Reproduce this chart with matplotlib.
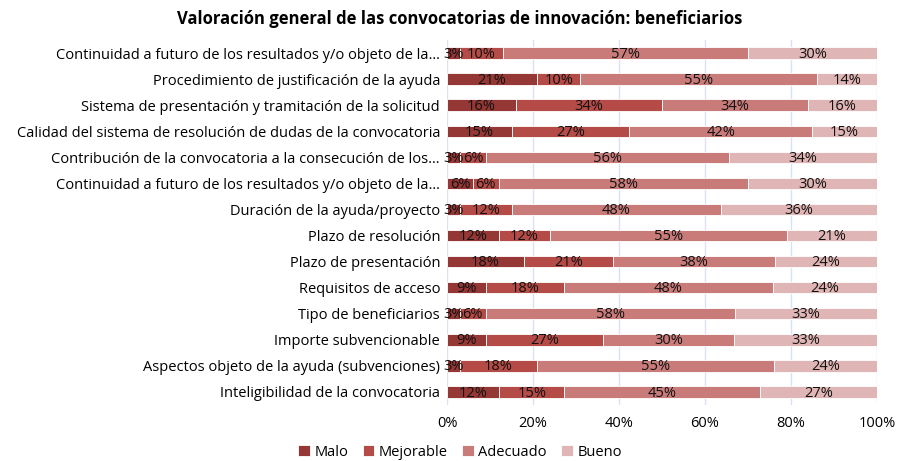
import matplotlib
matplotlib.use("Agg")
import matplotlib.pyplot as plt
import numpy as np

plt.rcParams['font.family'] = ['Open Sans', 'DejaVu Sans']

categories = [
    "Continuidad a futuro de los resultados y/o objeto de la…",
    "Procedimiento de justificación de la ayuda",
    "Sistema de presentación y tramitación de la solicitud",
    "Calidad del sistema de resolución de dudas de la convocatoria",
    "Contribución de la convocatoria a la consecución de los…",
    "Continuidad a futuro de los resultados y/o objeto de la…",
    "Duración de la ayuda/proyecto",
    "Plazo de resolución",
    "Plazo de presentación",
    "Requisitos de acceso",
    "Tipo de beneficiarios",
    "Importe subvencionable",
    "Aspectos objeto de la ayuda (subvenciones)",
    "Inteligibilidad de la convocatoria",
]
series_names = ["Malo", "Mejorable", "Adecuado", "Bueno"]
malo      = [3, 21, 16, 15, 3, 6, 3, 12, 18, 9, 3, 9, 3, 12]
mejorable = [10, 10, 34, 27, 6, 6, 12, 12, 21, 18, 6, 27, 18, 15]
adecuado  = [57, 55, 34, 42, 56, 58, 48, 55, 38, 48, 58, 30, 55, 45]
bueno     = [30, 14, 16, 15, 34, 30, 36, 21, 24, 24, 33, 33, 24, 27]
xtick_labels = ["0%", "20%", "40%", "60%", "80%", "100%"]

colors = ["#953735", "#B44B47", "#C97B7A", "#E0B5B5"]

fig = plt.figure(figsize=(8.97, 4.61), dpi=100)
ax = fig.add_axes([447/897, 1-405/461, 430/897, 365/461])

data = [np.array(d, dtype=float) for d in (malo, mejorable, adecuado, bueno)]
totals = sum(data)
n = len(categories)
y = np.arange(n)
left = np.zeros(n)
for vals, name, col in zip(data, series_names, colors):
    widths = vals / totals * 100
    ax.barh(y, widths, left=left, height=0.44, color=col, label=name,
            edgecolor="white", linewidth=0.6, zorder=3)
    for yi, l, w, v in zip(y, left, widths, vals):
        ax.text(l + w/2, yi + 0.04, f"{int(v)}%", ha="center", va="center",
                fontsize=10.5, color="#111111", zorder=4)
    left += widths

ax.set_xlim(0, 100)
ax.set_ylim(n - 0.5, -0.5)
ax.set_yticks(y)
ax.set_yticklabels(categories, fontsize=10.5)
ax.set_xticks(np.linspace(0, 100, 6))
ax.set_xticklabels(xtick_labels, fontsize=10.5)
ax.tick_params(length=0)
ax.tick_params(axis='x', pad=8)
ax.tick_params(axis='y', pad=5)
ax.grid(axis='x', color="#D9E1F2", linewidth=1, zorder=0)
for s in ax.spines.values():
    s.set_visible(False)

fig.suptitle("Valoración general de las convocatorias de innovación: beneficiarios",
             fontsize=12, fontweight="bold", x=460/897, y=0.978)
handles, labels = ax.get_legend_handles_labels()
fig.legend(handles, labels, loc="center", bbox_to_anchor=(460/897, 1-452/461),
           ncol=4, frameon=False, fontsize=10.5, handlelength=0.8, handleheight=0.8,
           columnspacing=1.0, handletextpad=0.3)

fig.savefig("out.png", dpi=100)
